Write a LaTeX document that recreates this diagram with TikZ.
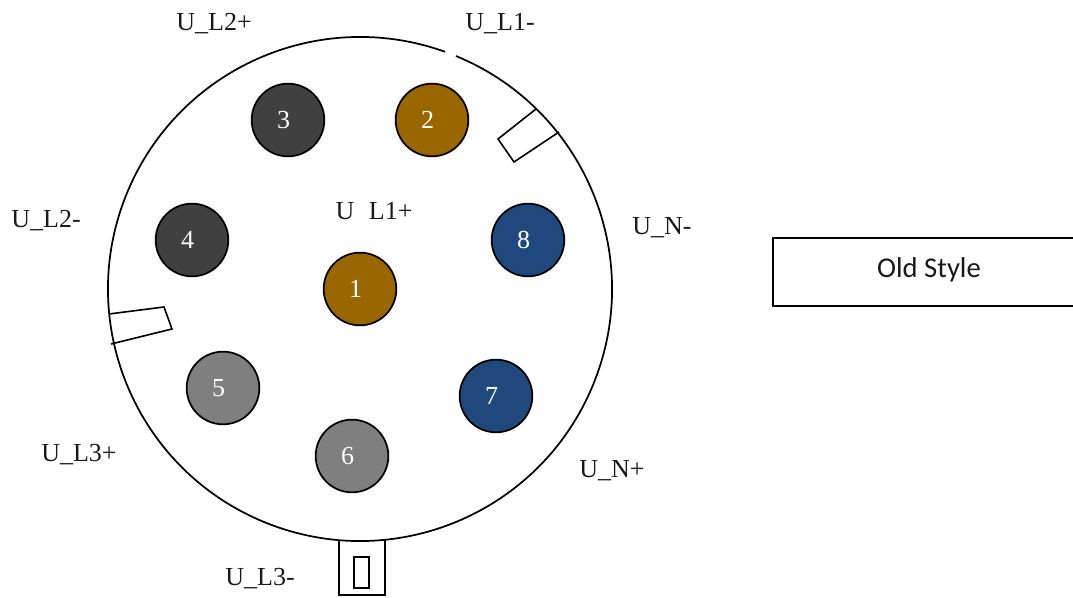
\documentclass[tikz,border=0pt]{standalone}
\usepackage{fontspec}
\setmainfont{Liberation Serif}
\newfontfamily\boxfont{Carlito}
\definecolor{pinbrown}{HTML}{996600}
\definecolor{pindark}{HTML}{404040}
\definecolor{pingrey}{HTML}{7F7F7F}
\definecolor{pinblue}{HTML}{1F497D}
\newcommand{\pindigit}[1]{\kern-6.5pt #1}
\tikzset{
  pin/.style={circle,draw=black,line width=1.3pt,minimum size=54.5pt,inner sep=0pt,text=white,font=\fontsize{19.5}{21}\selectfont},
  lab/.style={inner sep=0pt,text=black!90,font=\fontsize{19.5}{21}\selectfont},
  outl/.style={draw=black,line width=1.2pt}
}
\begin{document}
\begin{tikzpicture}[x=0.75pt,y=0.75pt]
\useasboundingbox (0,0) rectangle (1073,598);
% y values are 598 - image y
\draw[outl,line width=1.3pt] (360,309) ++(67.6:252) arc[start angle=67.6,delta angle=-357.3,radius=189pt];
\node[pin,fill=pinbrown] (p1) at (360,309) {\pindigit{1}};
\node[pin,fill=pinbrown] (p2) at (432,478) {\pindigit{2}};
\node[pin,fill=pindark] (p3) at (288,478) {\pindigit{3}};
\node[pin,fill=pindark] (p4) at (192,358) {\pindigit{4}};
\node[pin,fill=pingrey] (p5) at (223,210) {\pindigit{5}};
\node[pin,fill=pingrey] (p6) at (352,142) {\pindigit{6}};
\node[pin,fill=pinblue] (p7) at (496,202) {\pindigit{7}};
\node[pin,fill=pinblue] (p8) at (528,358) {\pindigit{8}};
\draw[outl] (536,489) -- (498,459) -- (514,436) -- (559,466);
\draw[outl] (109,284) -- (164,291) -- (172,269) -- (111,254);
\draw[outl] (339,58) -- (339,3) -- (385,3) -- (385,58);
\draw[outl,line width=1.5pt] (354,41) rectangle (369,10);
\node[lab] (l1) at (214,574) {U\_L2+};
\node[lab] (l2) at (500,574) {U\_L1-};
\node[lab] (l3) at (46,377) {U\_L2-};
\node[lab] (l4) at (374,387) {U\hspace{11pt}L1+};
\node[lab] (l5) at (662,370) {U\_N-};
\node[lab] (l6) at (79,143) {U\_L3+};
\node[lab] (l7) at (612,127) {U\_N+};
\node[lab] (l8) at (260,19) {U\_L3-};
\draw[outl] (1073,360) -- (773,360) -- (773,292) -- (1073,292);
\node[inner sep=0pt,font=\boxfont\fontsize{21.5}{23}\selectfont,text=black!90] (old) at (929,328) {Old Style};
\end{tikzpicture}
\end{document}
